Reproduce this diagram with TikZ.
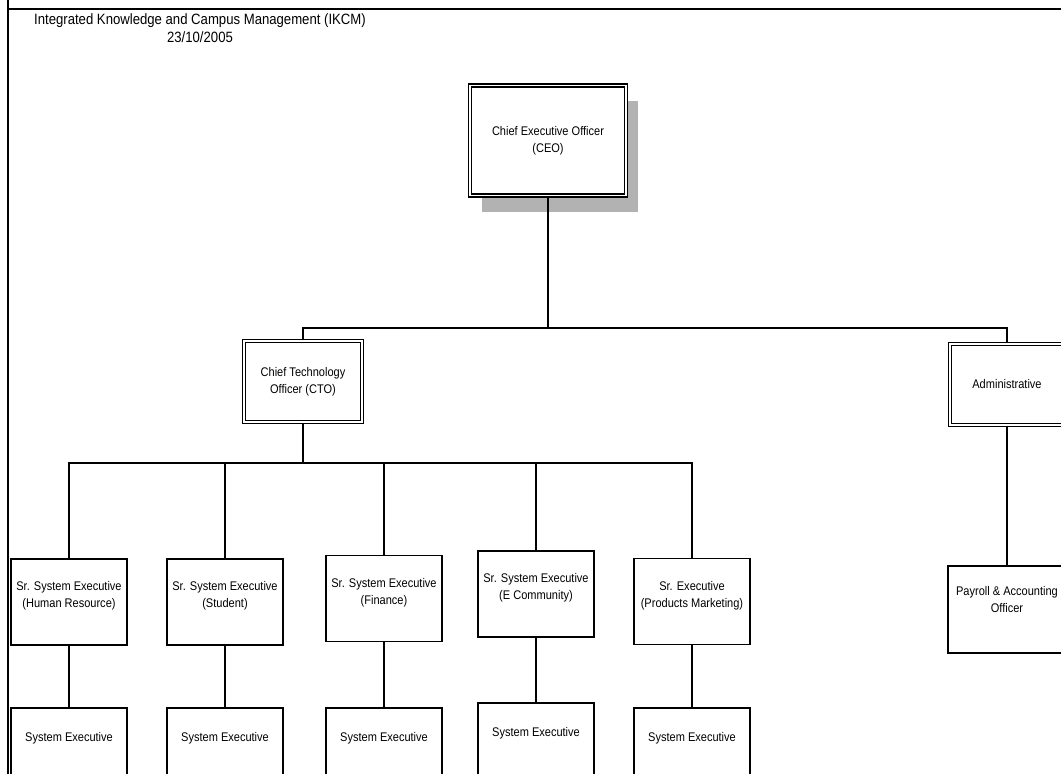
\documentclass[tikz,border=0pt]{standalone}
\usepackage{fontspec}
\setmainfont{Liberation Sans}
\newfontfamily\chartfont{Liberation Sans}[FakeStretch=0.88]
\usetikzlibrary{shadows}
\begin{document}
\begin{tikzpicture}[x=0.75pt,y=-0.75pt,line width=1pt,
	box/.style={draw,line width=1.05pt,fill=white,inner sep=0pt,align=center,minimum width=87pt,minimum height=64.5pt,font=\chartfont\fontsize{9.4}{12.5}\selectfont},
	dblbox/.style={box,double,double distance=1.3pt,line width=1pt},
	srbox/.style={box,text depth=11pt},
	sysbox/.style={box,text depth=21pt}]

\def\SHADOWCOLOR{black!30}
	\useasboundingbox (0,0) rectangle (1061,774);
	\clip (0,0) rectangle (1061,774);
	\draw[line width=1.2pt] (8,0) -- (8,774);
	\draw[line width=1.2pt] (8,9) -- (1061,9);
	\node[align=center,inner sep=0pt,font=\chartfont\fontsize{11.2}{13.5}\selectfont] (title) at (200,28) {Integrated Knowledge and Campus Management (IKCM)\\23/10/2005};

	\node[dblbox,minimum width=117pt,minimum height=82.5pt,drop shadow={shadow xshift=9pt,shadow yshift=-12pt,fill=\SHADOWCOLOR,opacity=1}] (ceo) at (548,140.5) {Chief Executive Officer\\(CEO)};
	\node[dblbox,minimum width=88.5pt,minimum height=60.75pt] (cto) at (303,381.5) {Chief Technology\\Officer (CTO)};
	\node[dblbox,minimum width=85.5pt,minimum height=60.75pt] (adm) at (1007,384.5) {Administrative};

	\node[srbox] (srhr) at (69,602) {Sr. System Executive\\(Human Resource)};
	\node[srbox] (srst) at (225,602) {Sr. System Executive\\(Student)};
	\node[srbox] (srfi) at (384,598.5) {Sr. System Executive\\(Finance)};
	\node[srbox] (srec) at (536,594) {Sr. System Executive\\(E Community)};
	\node[srbox] (srpm) at (692,601.5) {Sr. Executive\\(Products Marketing)};
	\node[srbox,minimum width=88.5pt,minimum height=65pt,text depth=15pt] (pay) at (1007,609.5) {Payroll \& Accounting\\Officer};

	\node[sysbox] (syhr) at (69,751) {System Executive};
	\node[sysbox] (syst) at (225,751) {System Executive};
	\node[sysbox] (syfi) at (384,751) {System Executive};
	\node[sysbox] (syec) at (536,746) {System Executive};
	\node[sysbox] (sypm) at (692,751) {System Executive};

	\coordinate (busa) at (548,328);
	\coordinate (busb) at (303,463);
	\draw (ceo.south) -- (busa);
	\draw (cto.north) |- (busa) -| (adm.north);
	\draw (cto.south) -- (busb);
	\draw (srhr.north) |- (busb) -| (srpm.north);
	\draw (busb) -| (srst.north);
	\draw (busb) -| (srfi.north);
	\draw (busb) -| (srec.north);
	\draw (adm.south) -- (pay.north);
	\draw (srhr.south) -- (syhr.north);
	\draw (srst.south) -- (syst.north);
	\draw (srfi.south) -- (syfi.north);
	\draw (srec.south) -- (syec.north);
	\draw (srpm.south) -- (sypm.north);

          \end{tikzpicture}
\end{document}
